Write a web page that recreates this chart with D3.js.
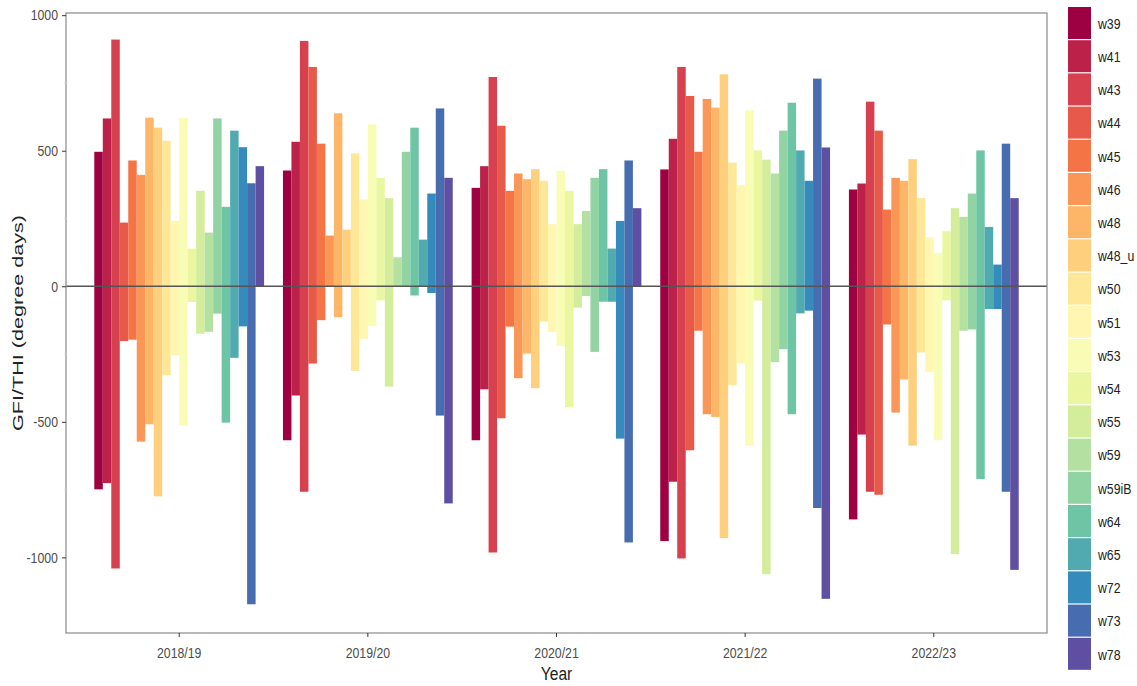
<!DOCTYPE html>
<html>
<head>
<meta charset="utf-8">
<script src="https://cdn.jsdelivr.net/npm/d3@7"></script>
<style>
  body { margin: 0; background: #fff; }
  svg text { font-family: "Liberation Sans", Arial, sans-serif; }
</style>
</head>
<body>
<div id="chart"></div>
<script>
// Data
const years = ["2018/19", "2019/20", "2020/21", "2021/22", "2022/23"];
const sites = ["w39", "w41", "w43", "w44", "w45", "w46", "w48", "w48_u", "w50", "w51",
  "w53", "w54", "w55", "w59", "w59iB", "w64", "w65", "w72", "w73", "w78"];

// GFI (positive part), one row per year, one value per site
const gfi = [
  [496, 619, 910, 235, 464, 411, 622, 585, 537, 241, 622, 139, 352, 198, 619, 293, 574, 513, 380, 443],
  [427, 533, 905, 809, 526, 187, 638, 209, 490, 320, 597, 400, 325, 107, 496, 585, 172, 342, 656, 400],
  [363, 443, 772, 592, 352, 416, 395, 432, 389, 229, 426, 352, 229, 278, 400, 432, 139, 241, 464, 288],
  [431, 544, 809, 702, 496, 691, 659, 782, 456, 373, 649, 501, 467, 416, 574, 677, 501, 389, 766, 512],
  [357, 379, 681, 574, 283, 400, 389, 469, 325, 181, 123, 203, 288, 256, 342, 501, 219, 80, 526, 325],
];

// THI (negative part), same layout
const thi = [
  [-749, -726, -1041, -202, -197, -573, -509, -775, -328, -255, -514, -58, -175, -168, -101, -503, -264, -148, -1173, 0],
  [-568, -403, -758, -285, -125, 0, -114, 0, -312, -194, -146, -52, -370, 0, 0, -34, 0, -25, -477, -801],
  [-568, -380, -982, -487, -149, -339, -248, -376, -130, -169, -221, -445, -79, -36, -242, -57, -57, -562, -945, 0],
  [-940, -721, -1004, -605, -164, -472, -482, -929, -365, -285, -588, -53, -1062, -280, -232, -472, -100, -90, -818, -1153],
  [-860, -547, -758, -769, -141, -466, -344, -588, -244, -317, -567, -52, -988, -164, -159, -711, -84, -84, -758, -1046],
];

const yTicks = [-1000, -500, 0, 500, 1000];
const yMinorTicks = [-750, -250, 250, 750];

const bars = [];
years.forEach((year, i) => {
  sites.forEach((site, j) => {
    bars.push({ year, site, value: gfi[i][j] });
    bars.push({ year, site, value: thi[i][j] });
  });
});

// Dimensions
const width = 1137;
const height = 686;
const margin = { top: 13, right: 90, bottom: 53, left: 66 };
// the original text is horizontally condensed
const narrow = "scale(0.82,1)";

// Scales
const xScale = d3
  .scaleBand()
  .domain(years)
  .range([margin.left, width - margin.right])
  .paddingInner(0.1)
  .paddingOuter(0.15);

const xSite = d3
  .scaleBand()
  .domain(sites)
  .range([0, xScale.bandwidth()]);

const yScale = d3
  .scaleLinear()
  .domain([-1279, 1008])
  .range([height - margin.bottom, margin.top]);

const colors = d3.quantize(
  d3.piecewise(d3.interpolateRgb, d3.schemeSpectral[11]),
  sites.length
);
const colorScale = d3.scaleOrdinal().domain(sites).range(colors);

const svg = d3
  .select("#chart")
  .append("svg")
  .attr("width", width)
  .attr("height", height);

const x0 = margin.left;
const x1 = width - margin.right;
const yTop = margin.top;
const yBottom = height - margin.bottom;

// Bars
svg
  .append("g")
  .selectAll("rect")
  .data(bars)
  .join("rect")
  .attr("x", (d) => xScale(d.year) + xSite(d.site))
  .attr("width", xSite.bandwidth())
  .attr("y", (d) => yScale(Math.max(0, d.value)))
  .attr("height", (d) => Math.abs(yScale(d.value) - yScale(0)))
  .attr("fill", (d) => colorScale(d.site));

// Zero line
svg
  .append("line")
  .attr("x1", x0)
  .attr("x2", x1)
  .attr("y1", yScale(0))
  .attr("y2", yScale(0))
  .attr("stroke", "#555")
  .attr("stroke-width", 1.5);

// Panel border
svg
  .append("rect")
  .attr("x", x0)
  .attr("y", yTop)
  .attr("width", x1 - x0)
  .attr("height", yBottom - yTop)
  .attr("fill", "none")
  .attr("stroke", "#8a8a8a")
  .attr("stroke-width", 1.2);

// Minor tick stubs
svg
  .append("g")
  .selectAll("line")
  .data(yMinorTicks)
  .join("line")
  .attr("x1", x0 - 2)
  .attr("x2", x0)
  .attr("y1", (d) => yScale(d))
  .attr("y2", (d) => yScale(d))
  .attr("stroke", "#ddd");

// Y axis
const yAxisG = svg
  .append("g")
  .attr("transform", `translate(${x0},0)`)
  .call(
    d3
      .axisLeft(yScale)
      .tickValues(yTicks)
      .tickSize(4)
      .tickPadding(5.8)
      .tickFormat((d) => `${d}`)
  );
yAxisG.select(".domain").remove();
yAxisG.selectAll(".tick line").attr("stroke", "#333");
yAxisG
  .selectAll(".tick text")
  .attr("fill", "#4d4d4d")
  .attr("transform", narrow)
  .style("font-size", "15px");

// X axis
const xAxisG = svg
  .append("g")
  .attr("transform", `translate(0,${yBottom})`)
  .call(d3.axisBottom(xScale).tickSize(4).tickPadding(10));
xAxisG.select(".domain").remove();
xAxisG.selectAll(".tick line").attr("stroke", "#333");
xAxisG
  .selectAll(".tick text")
  .attr("fill", "#4d4d4d")
  .attr("transform", narrow)
  .style("font-size", "15px");

// Axis titles
svg
  .append("g")
  .attr("transform", `translate(${(x0 + x1) / 2},680)`)
  .append("text")
  .attr("transform", narrow)
  .attr("text-anchor", "middle")
  .attr("fill", "#222")
  .style("font-size", "19px")
  .text("Year");

svg
  .append("text")
  .attr("transform", `translate(23,${(yTop + yBottom) / 2}) rotate(-90)`)
  .attr("text-anchor", "middle")
  .attr("fill", "#222")
  .style("font-size", "15px")
  .attr("textLength", 216)
  .attr("lengthAdjust", "spacingAndGlyphs")
  .text("GFI/THI (degree days)");

// Legend
const legendStep = 33.2;
const legendItem = svg
  .append("g")
  .attr("transform", "translate(1068,7)")
  .selectAll("g")
  .data(sites)
  .join("g")
  .attr("transform", (d, i) => `translate(0,${i * legendStep})`);

legendItem
  .append("rect")
  .attr("width", 23)
  .attr("height", legendStep - 1.2)
  .attr("fill", (d) => colorScale(d));

legendItem
  .append("g")
  .attr("transform", `translate(30,${legendStep / 2})`)
  .append("text")
  .attr("transform", narrow)
  .attr("dy", "0.35em")
  .attr("fill", "#222")
  .style("font-size", "15px")
  .text((d) => d);
</script>
</body>
</html>
